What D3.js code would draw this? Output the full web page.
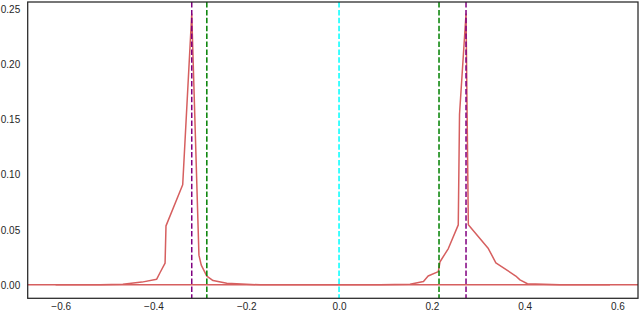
<!DOCTYPE html>
<html>
<head>
<meta charset="utf-8">
<script src="https://cdn.jsdelivr.net/npm/d3@7"></script>
<style>
  html, body { margin: 0; padding: 0; background: #fff; }
  #chart { width: 640px; height: 315px; }
  .tick text { font-family: "Liberation Sans", Arial, sans-serif; font-size: 10px; fill: #262626; }
</style>
</head>
<body>
<div id="chart"></div>
<script>
// density curve
const curveX = [-0.611, -0.515, -0.466, -0.425, -0.393, -0.386, -0.375, -0.373, -0.337, -0.3175,
  -0.302, -0.297, -0.285, -0.2716, -0.242, -0.170, 0.088, 0.153, 0.182, 0.192, 0.214, 0.2177,
  0.2356, 0.257, 0.2597, 0.2737, 0.2787, 0.3218, 0.338, 0.381, 0.390, 0.406, 0.476, 0.584];
const curveY = [0, 0, 0.0005, 0.0025, 0.0052, 0.011, 0.0197, 0.0536, 0.091, 0.246,
  0.027, 0.018, 0.008, 0.0039, 0.0015, 0, 0, 0.0005, 0.003, 0.008, 0.012, 0.021,
  0.033, 0.0545, 0.155, 0.246, 0.0545, 0.033, 0.020, 0.008, 0.0045, 0.001, 0, 0];

// vertical reference lines
const vlineX = [-0.3175, -0.285, 0, 0.2155, 0.2737];
const vlineColors = ['#800080', '#008000', '#00ffff', '#008000', '#800080'];

const xTicks = [-0.6, -0.4, -0.2, 0.0, 0.2, 0.4, 0.6];
const yTicks = [0.00, 0.05, 0.10, 0.15, 0.20, 0.25];

const width = 640;
const height = 315;
const margins = { top: 2, right: 2, bottom: 16.7, left: 27.7 };
const innerWidth = width - margins.left - margins.right;
const innerHeight = height - margins.top - margins.bottom;

const xScale = d3.scaleLinear()
  .domain([-0.6711, 0.6444])
  .range([0, innerWidth]);

const yScale = d3.scaleLinear()
  .domain([-0.0122, 0.2569])
  .range([innerHeight, 0]);

const svg = d3.select('#chart')
  .append('svg')
  .attr('width', width)
  .attr('height', height);

const g = svg.append('g')
  .attr('transform', `translate(${margins.left}, ${margins.top})`);

const red = '#d65f5f';

// curve
const line = d3.line()
  .x((d, i) => xScale(curveX[i]))
  .y(d => yScale(d));

g.append('path')
  .datum(curveY)
  .attr('d', line)
  .attr('fill', 'none')
  .attr('stroke', red)
  .attr('stroke-width', 1.5)
  .attr('stroke-linejoin', 'round');

// horizontal line at zero
g.append('line')
  .attr('x1', 0)
  .attr('x2', innerWidth)
  .attr('y1', yScale(0))
  .attr('y2', yScale(0))
  .attr('stroke', red)
  .attr('stroke-width', 1.5);

// dashed verticals
g.selectAll('.vline')
  .data(vlineX)
  .enter().append('line')
  .attr('class', 'vline')
  .attr('x1', d => xScale(d))
  .attr('x2', d => xScale(d))
  .attr('y1', 0)
  .attr('y2', innerHeight)
  .attr('stroke', (d, i) => vlineColors[i])
  .attr('stroke-width', 1.5)
  .attr('stroke-dasharray', '5.5,2.4');

// axes, no tick marks
const xAxis = d3.axisBottom(xScale)
  .tickValues(xTicks)
  .tickFormat(d3.format('.1f'))
  .tickSize(0)
  .tickPadding(5);

const yAxis = d3.axisLeft(yScale)
  .tickValues(yTicks)
  .tickFormat(d3.format('.2f'))
  .tickSize(0)
  .tickPadding(7.5);

g.append('g')
  .attr('transform', `translate(0,${innerHeight})`)
  .call(xAxis)
  .call(s => s.select('.domain').remove());

g.append('g')
  .call(yAxis)
  .call(s => s.select('.domain').remove());

// frame
g.append('rect')
  .attr('x', 0)
  .attr('y', 0)
  .attr('width', innerWidth)
  .attr('height', innerHeight)
  .attr('fill', 'none')
  .attr('stroke', '#262626')
  .attr('stroke-width', 1.25);
</script>
</body>
</html>
